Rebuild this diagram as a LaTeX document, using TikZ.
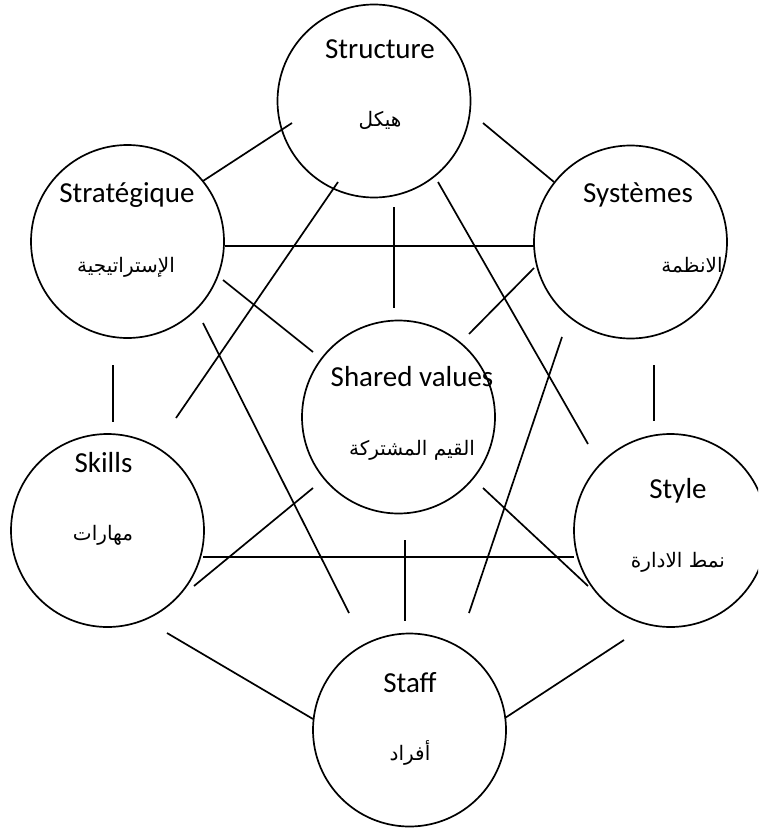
\documentclass[tikz,border=0pt]{standalone}
\usepackage{fontspec}
\setmainfont{Carlito}
\newfontfamily\arabicfont[Script=Arabic]{DejaVu Sans}
\TeXXeTstate=1
\begin{document}
\begin{tikzpicture}[x=1pt,y=-1pt,
  ring/.style={circle,draw,line width=1.7pt,minimum size=193pt,inner sep=0pt},
  lat/.style={anchor=base,font=\fontsize{29}{32}\selectfont,inner sep=0pt},
  arb/.style={anchor=base,font=\arabicfont\fontsize{20}{24}\selectfont,inner sep=0pt},
  link/.style={line width=1.7pt}]
\useasboundingbox (0,0) rectangle (758,829);
\clip (0,0) rectangle (758,829);
% circles
\node[ring] (struct) at (374,101) {};
\node[ring] (strat) at (127.5,241.5) {};
\node[ring] (sys) at (630.5,242) {};
\node[ring] (shared) at (398.5,417) {};
\node[ring] (skills) at (107.5,530.5) {};
\node[ring] (style) at (670.5,530.5) {};
\node[ring] (staff) at (409.5,730) {};
% labels
\node[lat] (tstruct) at (380,59) {Structure};
\node[arb] (astruct) at (380,127) {\beginR هيكل\endR};
\node[lat] (tstrat) at (127,202) {Stratégique};
\node[arb] (astrat) at (126,272) {\beginR الإستراتيجية\endR};
\node[lat] (tsys) at (638,202) {Systèmes};
\node[arb] (asys) at (692,272) {\beginR الانظمة\endR};
\node[lat] (tshared) at (412,386) {Shared values};
\node[arb] (ashared) at (412,455) {\beginR القيم المشتركة\endR};
\node[lat] (tskills) at (103.5,472) {Skills};
\node[arb] (askills) at (103,540) {\beginR مهارات\endR};
\node[lat] (tstyle) at (678,498) {Style};
\node[arb] (astyle) at (678,567) {\beginR نمط الادارة\endR};
\node[lat] (tstaff) at (410,692) {Staff};
\node[arb] (astaff) at (410,760) {\beginR أفراد\endR};
% connector end points
\coordinate (a1) at (292,123); \coordinate (b1) at (203,181);
\coordinate (a2) at (483,123); \coordinate (b2) at (554,182);
\coordinate (a3) at (225,246); \coordinate (b3) at (534,246);
\coordinate (a4) at (394,207); \coordinate (b4) at (394,308);
\coordinate (a5) at (338,182); \coordinate (b5) at (176,418);
\coordinate (a6) at (438,182); \coordinate (b6) at (588,444);
\coordinate (a7) at (223,280); \coordinate (b7) at (313,352);
\coordinate (a8) at (534,268); \coordinate (b8) at (469,334);
\coordinate (a9) at (203,323); \coordinate (b9) at (349,613);
\coordinate (a10) at (562,337); \coordinate (b10) at (469,613);
\coordinate (a11) at (113,365); \coordinate (b11) at (113,422);
\coordinate (a12) at (654,365); \coordinate (b12) at (654,421);
\coordinate (a13) at (203,557); \coordinate (b13) at (574,557);
\coordinate (a14) at (313,488); \coordinate (b14) at (194,586);
\coordinate (a15) at (483,488); \coordinate (b15) at (588,586);
\coordinate (a16) at (405,540); \coordinate (b16) at (405,621);
\coordinate (a17) at (167,633); \coordinate (b17) at (313,719);
\coordinate (a18) at (624,640); \coordinate (b18) at (505,718);
\foreach \i in {1,...,18} {\draw[link] (a\i) -- (b\i);}
\end{tikzpicture}
\end{document}
